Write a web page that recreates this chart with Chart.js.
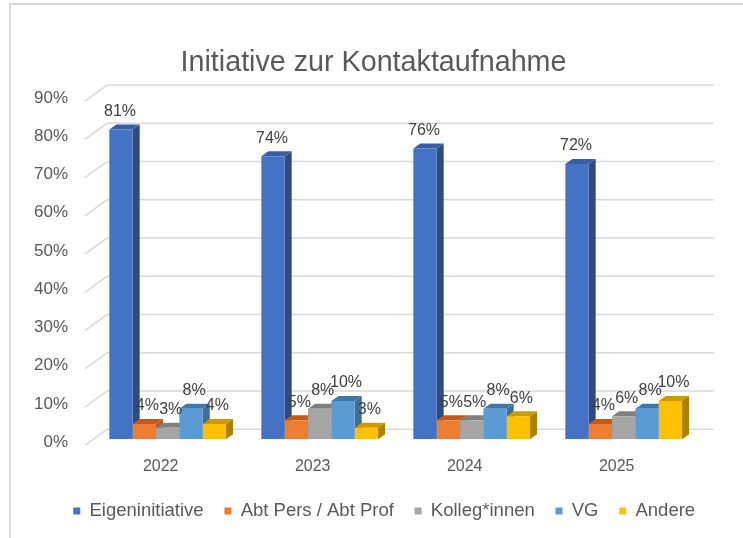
<!DOCTYPE html>
<html><head><meta charset="utf-8">
<script src="https://cdn.jsdelivr.net/npm/chart.js@4"></script>
<style>html,body{margin:0;padding:0;background:#fff}</style>
</head><body>
<canvas id="c" width="743" height="538"></canvas>
<script>
// ---- data ----
const categories = ['2022', '2023', '2024', '2025'];
const seriesNames = ['Eigeninitiative', 'Abt Pers / Abt Prof', 'Kolleg*innen', 'VG', 'Andere'];
const eigeninitiative = [81, 74, 76, 72];
const abtPersProf = [4, 5, 5, 4];
const kollegInnen = [3, 8, 5, 6];
const vg = [8, 10, 8, 8];
const andere = [4, 3, 6, 10];
const yMax = 90;
const yStep = 10;
const titleText = 'Initiative zur Kontaktaufnahme';

// ---- styles ----
const FONT = '"Liberation Sans", Arial, sans-serif';
const FRONT = ['#4472C4', '#ED7D31', '#A5A5A5', '#5B9BD5', '#FFC000'];
const SIDE  = ['#2E4C82', '#AE5A21', '#787878', '#3F6E9C', '#AA8000'];
const TOP   = ['#3A5DA3', '#C25A1C', '#808080', '#4176A8', '#CC9A00'];
const DX = 7, DY = 5;

const seriesValues = [eigeninitiative, abtPersProf, kollegInnen, vg, andere];

const framePlugin = {
  id: 'frame',
  beforeDraw(chart) {
    const ctx = chart.ctx;
    ctx.save();
    ctx.fillStyle = '#fff';
    ctx.fillRect(0, 0, chart.width, chart.height);
    ctx.strokeStyle = '#D9D9D9';
    ctx.lineWidth = 2;
    ctx.beginPath();
    ctx.moveTo(chart.width, 4);
    ctx.lineTo(10, 4);
    ctx.lineTo(10, chart.height);
    ctx.stroke();
    ctx.restore();
  },
  afterLayout(chart) {
    // horizontal placement of title and legend blocks
    const tb = chart.titleBlock;
    if (tb) {
      const d = 373.5 - (tb.left + tb.right) / 2;
      tb.left += d; tb.right += d;
    }
    const lg = chart.legend;
    if (lg) {
      const d = 52.5 - lg.left;
      lg.left += d; lg.right += d;
    }
  }
};

const threeDPlugin = {
  id: 'threeD',
  beforeDatasetsDraw(chart) {
    const ctx = chart.ctx;
    const ys = chart.scales.y, ca = chart.chartArea;
    ctx.save();
    ctx.strokeStyle = '#D9D9D9';
    ctx.lineWidth = 1.5;
    ys.ticks.forEach(t => {
      const p = ys.getPixelForValue(t.value);
      ctx.beginPath();
      ctx.moveTo(ca.left - 6.7, p + 6);
      ctx.lineTo(ca.left + 15.3, p - 10);
      ctx.lineTo(ca.right + 14.3, p - 10);
      ctx.stroke();
    });
    const n = chart.data.labels.length;
    for (let i = 0; i < n; i++) {
      chart.data.datasets.forEach((ds, d) => {
        const el = chart.getDatasetMeta(d).data[i];
        const l = el.x - el.width / 2, r = el.x + el.width / 2, t = el.y, b = el.base;
        ctx.fillStyle = SIDE[d];
        ctx.beginPath();
        ctx.moveTo(r, t); ctx.lineTo(r + DX, t - DY); ctx.lineTo(r + DX, b - DY); ctx.lineTo(r, b);
        ctx.closePath(); ctx.fill();
        ctx.fillStyle = TOP[d];
        ctx.beginPath();
        ctx.moveTo(l, t); ctx.lineTo(l + DX, t - DY); ctx.lineTo(r + DX, t - DY); ctx.lineTo(r, t);
        ctx.closePath(); ctx.fill();
      });
    }
    ctx.restore();
  },
  afterDatasetsDraw(chart) {
    const ctx = chart.ctx;
    ctx.save();
    ctx.font = '16px ' + FONT;
    ctx.fillStyle = '#404040';
    ctx.textAlign = 'center';
    ctx.textBaseline = 'middle';
    chart.data.datasets.forEach((ds, d) => {
      chart.getDatasetMeta(d).data.forEach((el, i) => {
        const shift = d === 0 ? -1 : 3;
        ctx.fillText(ds.data[i] + '%', el.x + shift, el.y - 18);
      });
    });
    ctx.restore();
  }
};

new Chart(document.getElementById('c'), {
  type: 'bar',
  data: {
    labels: categories,
    datasets: seriesNames.map((name, d) => ({
      label: name,
      data: seriesValues[d],
      backgroundColor: FRONT[d],
      borderWidth: 0,
      categoryPercentage: 0.768,
      barPercentage: 1
    }))
  },
  options: {
    responsive: false,
    devicePixelRatio: 1,
    animation: false,
    events: [],
    layout: { padding: { left: 20, right: 43.3, top: 0, bottom: 7.75 } },
    plugins: {
      title: {
        display: true,
        text: titleText,
        color: '#595959',
        font: { family: FONT, size: 28.7, weight: 'normal' },
        padding: { top: 46, bottom: 14.6 }
      },
      legend: {
        position: 'bottom',
        align: 'start',
        labels: {
          boxWidth: 7,
          boxHeight: 7,
          padding: 20.75,
          color: '#595959',
          font: { family: FONT, size: 18.5 }
        }
      },
      tooltip: { enabled: false }
    },
    scales: {
      x: {
        grid: { display: false, drawTicks: false },
        border: { display: false },
        ticks: { color: '#595959', font: { family: FONT, size: 16 }, padding: 17.6, labelOffset: -7 },
        afterFit: s => { s.height = 41.7; }
      },
      y: {
        min: 0,
        max: yMax,
        grid: { display: false, drawTicks: false },
        border: { display: false },
        ticks: {
          stepSize: yStep,
          color: '#595959',
          font: { family: FONT, size: 17 },
          padding: 23.7,
          labelOffset: 3,
          callback: v => v + '%'
        },
        afterFit: s => { s.width = 71.7; }
      }
    }
  },
  plugins: [framePlugin, threeDPlugin]
});
</script>
</body></html>
